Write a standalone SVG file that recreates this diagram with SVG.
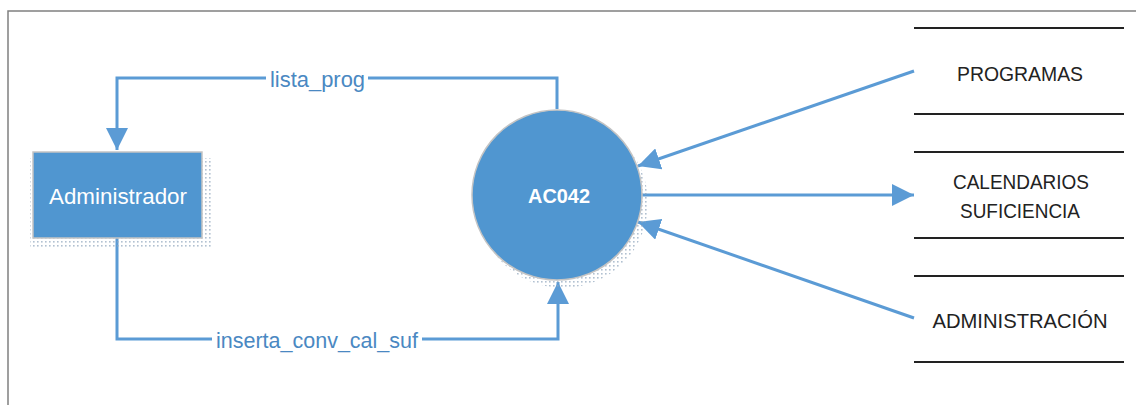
<svg xmlns="http://www.w3.org/2000/svg" width="1136" height="405" viewBox="0 0 1136 405">
<style>
.frame{fill:none;stroke:#808080;stroke-width:1.5}
.node{fill:#5096D0;stroke:#C4C4C4;stroke-width:1.5}
.flow{fill:none;stroke:#5B9BD5;stroke-width:3}
.store{stroke:#222;stroke-width:2}
.lbl{font-family:"Liberation Sans",Arial,sans-serif;font-size:22px;fill:#4A88C2}
.ntxt{font-family:"Liberation Sans",Arial,sans-serif;fill:#fff}
.stxt{font-family:"Liberation Sans",Arial,sans-serif;font-size:21px;fill:#222;text-anchor:middle}
</style>
<defs>
<marker id="ah" markerUnits="userSpaceOnUse" markerWidth="22" markerHeight="22" viewBox="0 0 20 20" refX="20" refY="10" orient="auto">
<path d="M0,0 L20,10 L0,20 Z" fill="#5B9BD5"/>
</marker>
<pattern id="dots" width="4" height="4" patternUnits="userSpaceOnUse">
<rect x="1" y="1" width="1.6" height="1.6" fill="#8FA6BD"/>
</pattern>
</defs>
<rect width="1136" height="405" fill="#fff"/>
<path class="frame" d="M8,405 V11 H1136"/>
<g id="connectors">
<path class="flow" d="M557,109 V78 H117 V150" marker-end="url(#ah)"/>
<rect x="266" y="64" width="102" height="28" fill="#fff"/>
<text class="lbl" x="270" y="87" textLength="95" lengthAdjust="spacingAndGlyphs">lista_prog</text>
<path class="flow" d="M117,238 V339 H558 V282" marker-end="url(#ah)"/>
<rect x="212" y="325" width="210" height="28" fill="#fff"/>
<text class="lbl" x="216" y="348" textLength="202" lengthAdjust="spacingAndGlyphs">inserta_conv_cal_suf</text>
<path class="flow" d="M914,71 L638,166" marker-end="url(#ah)"/>
<path class="flow" d="M642,195 H914" marker-end="url(#ah)"/>
<path class="flow" d="M914,318 L638,222" marker-end="url(#ah)"/>
</g>
<g id="admin">
<rect x="30" y="158" width="182" height="90" fill="url(#dots)" opacity="0.7"/>
<rect class="node" x="33" y="152" width="169" height="86"/>
<text class="ntxt" x="118" y="204" font-size="22" text-anchor="middle" textLength="138" lengthAdjust="spacingAndGlyphs">Administrador</text>
</g>
<g id="ac042">
<circle cx="563" cy="203" r="85" fill="url(#dots)" opacity="0.7"/>
<circle class="node" cx="557" cy="195" r="85"/>
<text class="ntxt" x="559" y="203" font-size="21" font-weight="bold" text-anchor="middle" textLength="62" lengthAdjust="spacingAndGlyphs">AC042</text>
</g>
<g id="programas">
<line class="store" x1="914" y1="28" x2="1124" y2="28"/>
<line class="store" x1="914" y1="114" x2="1124" y2="114"/>
<text class="stxt" x="1020" y="81" textLength="126" lengthAdjust="spacingAndGlyphs">PROGRAMAS</text>
</g>
<g id="calendarios">
<line class="store" x1="914" y1="152" x2="1124" y2="152"/>
<line class="store" x1="914" y1="238" x2="1124" y2="238"/>
<text class="stxt" x="1021" y="189" textLength="136" lengthAdjust="spacingAndGlyphs">CALENDARIOS</text>
<text class="stxt" x="1020" y="218" textLength="120" lengthAdjust="spacingAndGlyphs">SUFICIENCIA</text>
</g>
<g id="administracion">
<line class="store" x1="914" y1="276" x2="1124" y2="276"/>
<line class="store" x1="914" y1="362" x2="1124" y2="362"/>
<text class="stxt" x="1020" y="328" textLength="175" lengthAdjust="spacingAndGlyphs">ADMINISTRACIÓN</text>
</g>
</svg>
